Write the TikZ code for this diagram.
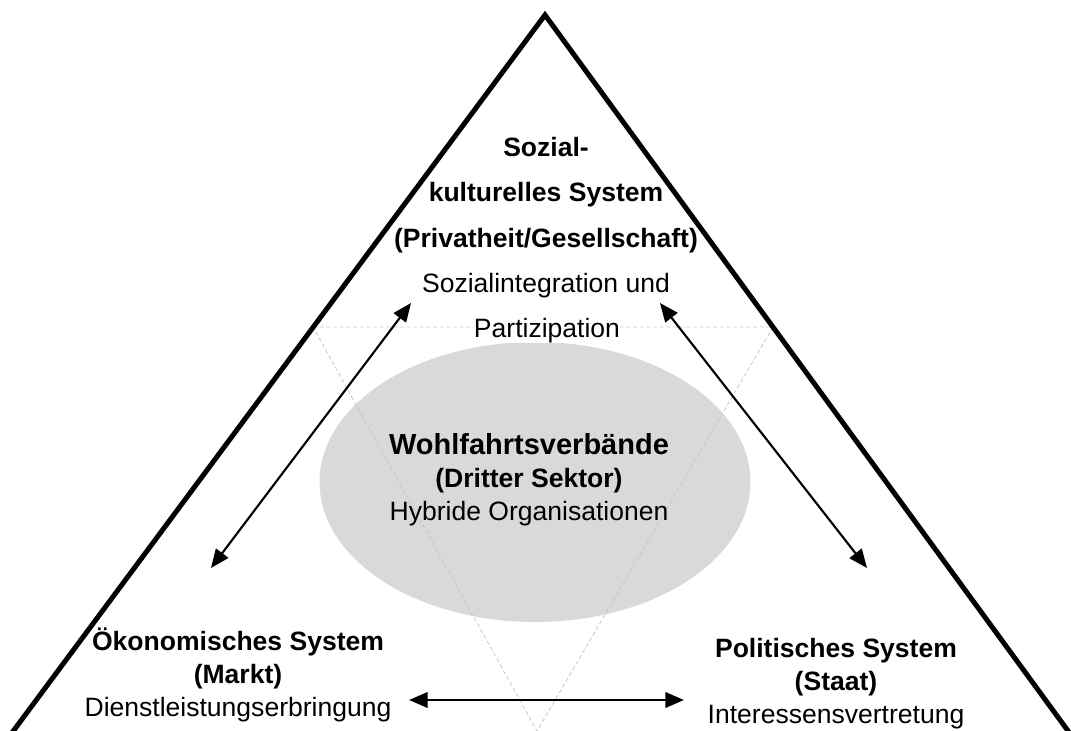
\documentclass[tikz,border=0pt]{standalone}
\usepackage{fontspec}
\setmainfont{Liberation Sans}
\usetikzlibrary{positioning, arrows.meta}
\definecolor{ovalgray}{RGB}{217,217,217}
\tikzset{
  txt/.style={align=center, inner sep=0pt, font=\fontsize{19.9}{24.75}\selectfont},
  link/.style={<->, line width=1.6pt},
}

\begin{document}
\begin{tikzpicture}[x=0.75pt, y=-0.75pt, >={Triangle[length=14pt, width=11.5pt]}]
      \useasboundingbox (0,0) rectangle (1071,731);
      \clip (0,0) rectangle (1071,731);
      % third sector in the middle
      \fill[ovalgray] (535,482) ellipse [x radius=161.6pt, y radius=105pt];
      \draw[dashed, dash pattern=on 3pt off 2pt, gray!45, line width=0.6pt]
        (313,327) -- (773,327) -- (537,731) -- cycle;
      % labels
      \node (soz) [txt, anchor=north, font=\fontsize{19.9}{34}\selectfont] at (546,137)
        {\textbf{Sozial-}\\ \textbf{kulturelles System}\\ \textbf{(Privatheit/Gesellschaft)}\\ Sozialintegration und};
      \node (part) [txt, anchor=base, fill=white] at (547,337.5) {Partizipation};
      \node (wohl) [txt, anchor=north] at (529,433)
        {{\fontsize{21.75}{26}\selectfont\textbf{Wohlfahrtsverbände}}\\ \textbf{(Dritter Sektor)}\\ Hybride Organisationen};
      \node (oek) [txt, anchor=north] at (238,628)
        {\textbf{Ökonomisches System}\\ \textbf{(Markt)}\\ Dienstleistungserbringung};
      \node (pol) [txt, anchor=north] at (836,638)
        {\textbf{Politisches System}\\ \textbf{(Staat)}\\ Interessensvertretung};
      % arrow ends
      \coordinate (sozL) at (411,303);
      \coordinate (sozR) at (660,303);
      \coordinate (oekU) at (211,568);
      \coordinate (polU) at (867,568);
      \coordinate (oekR) at (409,700);
      \coordinate (polL) at (684,700);
      \draw[link] (sozL) -- (oekU);
      \draw[link] (sozR) -- (polU);
      \draw[link, line width=2pt] (oekR) -- (polL);
      % outer triangle
      \coordinate (apex) at (545,15);
      \draw[line width=3.75pt, line join=miter] (-9,761) -- (apex) -- (1090,761);
    \end{tikzpicture}
\end{document}
